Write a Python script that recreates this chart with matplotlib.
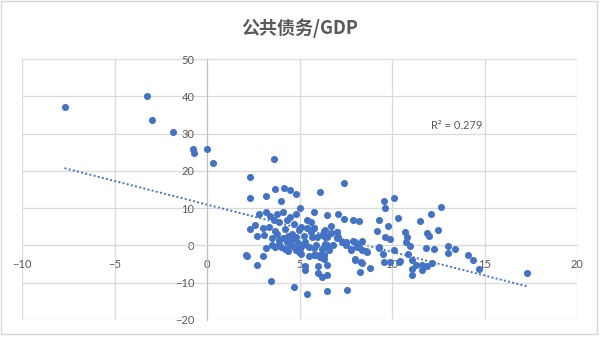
import numpy as np
import matplotlib.pyplot as plt

plt.rcParams['font.family'] = ['Noto Sans CJK SC', 'DejaVu Sans']

TITLE = '公共债务/GDP'
R2_LABEL = 'R² = 0.279'

# 散点数据
x_vals = [
    -7.7, -3.25, -2.98, -1.86, -0.77, -0.71, 0.0, 0.31, 2.3, 3.6,
    2.3, 3.2, 3.7, 4.15, 4.5, 4.8, 4.0, 7.4, 6.1, 5.0,
    9.56, 10.1, 9.6, 10.3, 12.64, 12.1, 11.5, 9.3, 9.8, 10.7,
    11.9, 12.0, 12.5, 9.2, 9.6, 9.9, 10.75, 10.96, 10.85, 11.86,
    12.26, 13.0, 13.0, 13.4, 14.1, 14.4, 14.7, 17.3, 9.3, 9.5,
    9.55, 10.44, 11.1, 11.3, 11.6, 11.9, 12.15, 11.07, 11.6, 11.07,
    10.1, 9.9,
    5.8, 6.5, 7.1, 7.4, 7.9, 8.2, 2.8, 3.2, 3.4, 3.8,
    4.1, 4.5, 4.8, 3.6, 3.9, 4.3, 4.7, 5.4, 5.6, 5.4,
    5.8, 2.6, 2.3, 3.0, 2.7, 3.1, 3.5, 3.7, 4.1, 4.3,
    4.6, 4.95, 5.25, 5.6, 3.7, 3.9, 4.3, 4.7, 4.8, 4.96,
    5.2, 5.5, 3.18, 5.76, 5.8, 6.1, 6.3, 6.0, 6.5, 5.3,
    5.3, 6.0, 6.2, 6.5, 2.7, 2.15, 3.0, 3.45, 4.7, 5.4,
    6.5, 7.55, 6.4, 6.7, 6.5, 6.2, 5.96, 7.05, 7.05, 6.4,
    6.8, 6.3, 7.5, 7.9, 8.4, 7.8, 8.1, 8.4, 8.66, 8.0,
    8.4, 8.25, 8.8, 5.54, 5.1, 3.8, 3.34, 4.2, 4.5, 5.9,
    6.2, 6.5, 6.6, 6.1, 6.35, 2.1, 7.3, 7.5, 8.0, 7.8,
    8.2, 8.6, 9.3, 8.0, 8.3, 5.9, 6.3, 10.4, 5.8, 5.7,
    6.35, 6.4, 6.7, 7.0, 7.1, 10.8,
    4.0, 4.4, 4.9, 5.0, 4.6, 5.3, 3.5, 4.4, 5.1, 3.9,
    4.2, 4.8,
]
y_vals = [
    37.1, 40.0, 33.7, 30.5, 25.9, 24.8, 25.9, 22.2, 18.4, 23.2,
    12.6, 13.2, 15.2, 15.5, 14.9, 13.9, 12.0, 16.8, 14.4, 10.1,
    12.0, 12.8, 10.1, 7.4, 10.4, 8.3, 6.6, 6.9, 5.3, 3.7,
    3.4, 2.5, 4.2, 3.9, 2.2, 1.8, 0.8, -0.2, -2.2, -0.6,
    -0.9, -0.1, -2.0, -0.9, -2.5, -4.0, -6.3, -7.3, -0.6, -2.3,
    -4.4, -4.3, -4.0, -5.2, -5.2, -5.4, -4.6, -6.3, -6.5, -7.9,
    -1.3, -4.5,
    9.0, 8.2, 8.5, 7.1, 6.9, 6.6, 8.5, 8.9, 8.0, 8.5,
    8.9, 7.6, 8.5, 6.7, 6.2, 6.7, 5.8, 6.7, 6.4, 4.8,
    4.7, 5.4, 4.3, 4.6, 2.5, 2.9, 2.0, 3.9, 2.0, 1.2,
    3.0, 4.2, 2.5, 3.6, -0.5, 0.5, 0.9, -0.3, -1.3, -1.8,
    0.0, -0.4, -0.6, -0.6, -2.5, -3.1, -2.7, -5.6, -5.2, -5.4,
    -6.5, -7.4, -8.5, -8.0, -5.2, -2.8, -2.8, -9.5, -11.1, -13.0,
    -12.2, -11.9, 4.2, 3.3, 2.2, 2.9, 2.2, 3.6, 2.0, 0.5,
    0.0, -0.4, 0.9, 1.2, 1.3, -1.3, -0.4, -1.3, -1.8, -3.8,
    -4.7, -7.1, -6.0, -2.9, 4.9, 3.1, 4.9, -0.9, 0.0, 0.0,
    -0.9, 0.0, -1.3, -2.7, -2.7, -2.7, 0.9, 0.0, 0.9, -0.9,
    -0.4, -1.6, -0.4, -3.6, -4.5, -2.7, -3.6, -4.5, 4.6, 2.2,
    4.0, 2.2, 5.2, 3.6, 2.2, 2.2,
    -0.3, 2.5, 0.7, -0.9, 1.5, 1.0, 0.2, -1.6, -2.2, 1.5,
    4.5, 2.3,
]

x_ticks = [-10, -5, 0, 5, 10, 15, 20]
y_ticks = [-20, -10, 0, 10, 20, 30, 40, 50]

BLUE = '#4472C4'
GRAY_TXT = '#595959'
GRID = '#D9D9D9'
NUM_FONT = ['Lato', 'DejaVu Sans']

x = np.array(x_vals)
y = np.array(y_vals)

fig = plt.figure(figsize=(6, 3.37), dpi=100)
ax = fig.add_axes([22 / 600, 1 - 320 / 337, 555 / 600, 261 / 337])

# 外框
fig.patches.append(plt.Rectangle((1 / 600, 3 / 337), 596 / 600, 333 / 337, transform=fig.transFigure,
                                 fill=False, edgecolor=GRID, linewidth=1))

ax.scatter(x, y, s=26, color=BLUE, zorder=3, linewidths=0)

# 线性趋势线
k, b = np.polyfit(x, y, 1)
xs = np.array([x.min(), x.max()])
ax.plot(xs, k * xs + b, color=BLUE, linestyle=(0, (1, 1.2)), linewidth=1.4, zorder=2)

ax.text(14.9, 32.2, R2_LABEL, fontsize=8, color=GRAY_TXT, ha='right', va='center',
        family=NUM_FONT)

ax.set_xlim(-10, 20)
ax.set_ylim(-20, 50)
ax.set_xticks(x_ticks)
ax.set_yticks(y_ticks)
ax.grid(True, color=GRID, linewidth=0.9, zorder=0)
ax.set_axisbelow(True)

for side in ['top', 'right']:
    ax.spines[side].set_visible(False)
ax.spines['left'].set_position(('data', 0))
ax.spines['bottom'].set_position(('data', 0))
ax.spines['left'].set_color('#BFBFBF')
ax.spines['bottom'].set_color(GRID)
ax.tick_params(length=0, labelsize=8, labelcolor=GRAY_TXT)
ax.tick_params(axis='x', pad=10)
ax.tick_params(axis='y', pad=9)
for lab in ax.get_xticklabels() + ax.get_yticklabels():
    lab.set_family(NUM_FONT)

fig.text(0.5, 1 - 28 / 337, TITLE, ha='center', va='center', fontsize=13,
         fontweight='bold', color=GRAY_TXT)

fig.savefig('out.png', dpi=100)
